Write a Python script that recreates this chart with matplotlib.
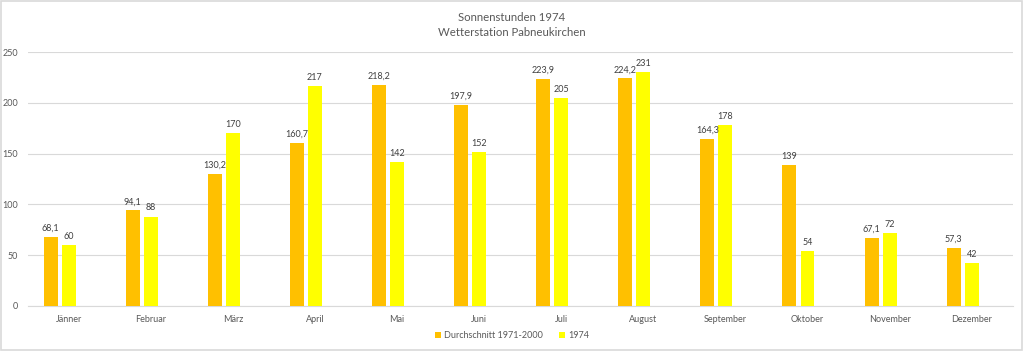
import matplotlib.pyplot as plt
import numpy as np

# Daten
monate = ["Jänner", "Februar", "März", "April", "Mai", "Juni", "Juli",
          "August", "September", "Oktober", "November", "Dezember"]
durchschnitt = [68.1, 94.1, 130.2, 160.7, 218.2, 197.9, 223.9, 224.2, 164.3, 139, 67.1, 57.3]
jahr_1974 = [60, 88, 170, 217, 142, 152, 205, 231, 178, 54, 72, 42]

plt.rcParams['font.family'] = ['Lato', 'DejaVu Sans']
grau = '#595959'

fig = plt.figure(figsize=(10.24, 3.51), dpi=100)
ax = fig.add_axes([0.027, 0.129, 0.962, 0.722])

x = np.arange(len(monate))
breite = 0.17
# Excel-Gruppe mit drei Plätzen (dritter leer) -> Balken links vom Kategoriemittelpunkt
b1 = ax.bar(x - 0.22, durchschnitt, breite, color='#FFC000',
            label='Durchschnitt 1971-2000', zorder=3)
b2 = ax.bar(x, jahr_1974, breite, color='#FFFF00', label='1974', zorder=3)

def fmt(v):
    return f"{v:g}".replace('.', ',')

for bars, werte in ((b1, durchschnitt), (b2, jahr_1974)):
    for b, v in zip(bars, werte):
        ax.text(b.get_x() + b.get_width() / 2, v + 4, fmt(v), ha='center', va='bottom',
                fontsize=6.5, color='#404040')

ax.set_xlim(-0.5, len(monate) - 0.5)
ax.set_ylim(0, 250)
ax.set_yticks(range(0, 251, 50))
ax.set_xticks(x)
ax.set_xticklabels(monate)
ax.tick_params(axis='both', length=0, labelsize=6.5, colors=grau)
ax.tick_params(axis='x', pad=7)
ax.tick_params(axis='y', pad=7)
ax.grid(axis='y', color='#D9D9D9', linewidth=0.8, zorder=0)
for s in ['top', 'right', 'left']:
    ax.spines[s].set_visible(False)
ax.spines['bottom'].set_color('#D9D9D9')

fig.text(0.5, 0.93, "Sonnenstunden 1974\nWetterstation Pabneukirchen", ha='center', va='center',
         fontsize=8.2, color=grau, linespacing=1.45)

fig.legend(loc='center', bbox_to_anchor=(0.5, 0.043), ncol=2, frameon=False, fontsize=6.5,
           handlelength=0.7, handleheight=0.7, handletextpad=0.3, columnspacing=1.8,
           labelcolor=grau)

fig.patches.append(plt.Rectangle((0.001, 0.002), 0.997, 0.995, transform=fig.transFigure,
                                 fill=False, edgecolor='#D9D9D9', linewidth=1.2))

fig.savefig("out.png", dpi=100)
